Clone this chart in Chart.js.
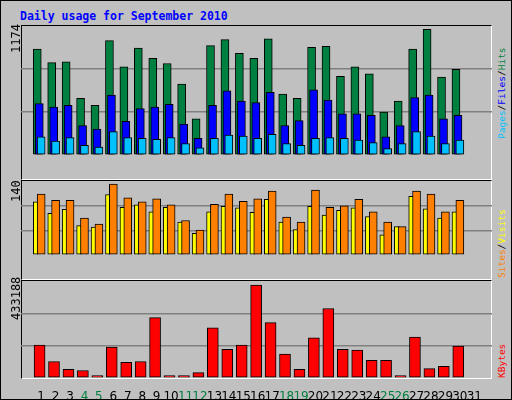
<!DOCTYPE html>
<html><head><meta charset="utf-8">
<script src="https://cdn.jsdelivr.net/npm/chart.js@4/dist/chart.umd.min.js"></script>
<style>
body{margin:0;background:#fff}
#f{position:relative;width:510px;height:398px;background:#C0C0C0;border:1px solid #000;overflow:hidden;font-family:"DejaVu Sans Mono",monospace}
.p{position:absolute;left:20px;width:471px;border-top:1px solid #000;border-left:1px solid #000;border-right:1px solid #fff;border-bottom:1px solid #fff;box-sizing:border-box}
.w{position:absolute;left:20px;width:471px}
.rot{position:absolute;transform:rotate(-90deg);transform-origin:left top;white-space:nowrap;font-size:12px}
.rl{font-size:9.5px}
#t{position:absolute;left:19px;top:8px;color:#0000FF;font-weight:bold;font-size:11.5px}
</style></head><body>
<div id="f">
<div id="t">Daily usage for September 2010</div>
<div class="p" style="top:24px;height:155px"></div>
<div class="p" style="top:179px;height:100px"></div>
<div class="p" style="top:279px;height:99px"></div>
<div class="w" style="top:25px;height:152px"><canvas id="c1"></canvas></div>
<div class="w" style="top:180px;height:97px"><canvas id="c2"></canvas></div>
<div class="w" style="top:280px;height:120px"><canvas id="c3"></canvas></div>
<div class="rot" style="left:8px;top:52px">1174</div>
<div class="rot" style="left:8px;top:201px">140</div>
<div class="rot" style="left:8px;top:319px">433188</div>
<div class="rot rl" style="left:495px;top:138px"><span style="color:#00C0FF">Pages</span>/<span style="color:#0000FF">Files</span>/<span style="color:#008040">Hits</span></div>
<div class="rot rl" style="left:495px;top:277px"><span style="color:#FF8000">Sites</span>/<span style="color:#FFFF00">Visits</span></div>
<div class="rot rl" style="left:495px;top:377px;color:#FF0000">KBytes</div>
</div>
<script>
const days=[1,2,3,4,5,6,7,8,9,10,11,12,13,14,15,16,17,18,19,20,21,22,23,24,25,26,27,28,29,30,31];
const weekend=[4,5,11,12,18,19,25,26];
const hits=[991,863,871,529,465,1070,824,999,903,855,664,338,1023,1078,951,903,1086,569,529,1007,1015,736,824,760,401,505,991,1174,728,800,0];
const files=[481,449,465,274,242,561,314,433,449,473,290,155,465,601,505,489,585,274,322,609,513,386,386,370,170,274,537,561,338,370,0];
const pages=[170,131,162,91,75,218,162,155,147,162,107,67,155,186,178,155,194,107,91,155,162,155,139,115,59,107,218,178,107,139,0];
const sites=[105,82,90,58,55,119,94,99,85,94,65,43,85,96,93,84,110,65,50,96,79,88,93,76,40,56,116,91,73,85,0];
const visits=[120,108,108,73,61,140,113,105,111,99,68,49,100,120,106,111,126,75,65,128,94,97,110,85,65,56,126,120,85,108,0];
const kbytes=[153000,77000,40000,35000,11000,144000,73000,77000,281000,11000,11000,25000,234000,134000,153000,433188,258000,111000,40000,187000,324000,134000,130000,82000,82000,11000,191000,44000,54000,149000,0];

function ds(vals,off,color,th,order){
  return {data:days.map((d,i)=>({x:d+off,y:vals[i]})).filter(p=>p.y>0),backgroundColor:color,borderColor:'#000',borderWidth:1,borderSkipped:false,barThickness:th,grouped:false,order:order};
}
function mk(id,datasets,max,showX){
  new Chart(document.getElementById(id),{type:'bar',data:{datasets},
  options:{responsive:true,maintainAspectRatio:false,animation:false,
   layout:{padding:0},
   plugins:{legend:{display:false},tooltip:{enabled:false}},
   scales:{
    x:{type:'linear',min:0.13,max:31.7,display:showX,grid:{display:false},border:{display:false},
       afterBuildTicks:s=>{s.ticks=days.map(v=>({value:v}));},
       afterFit:s=>{s.height=23;},
       ticks:{autoSkip:false,maxRotation:0,padding:4,font:{family:'DejaVu Sans',size:12},
         color:c=>weekend.includes(c.tick.value)?'#008040':'#000',callback:v=>String(v)}},
    y:{min:0,max:max,display:true,border:{display:false},
       afterBuildTicks:s=>{s.ticks=[0,max/3,2*max/3,max].map(v=>({value:v}));},
       afterFit:s=>{s.width=0;},
       ticks:{display:false},
       grid:{drawTicks:false,color:c=>(c.index===1||c.index===2)?'#808080':'rgba(0,0,0,0)',lineWidth:1.5}}
   }}});
}
mk('c1',[ds(hits,-0.27,'#008040',8,3),ds(files,-0.13,'#0000FF',8,2),ds(pages,0,'#00C0FF',8,1)],1206,false);
mk('c2',[ds(sites,-0.37,'#FFFF00',5,2),ds(visits,0,'#FF8000',8,1)],146,false);
mk('c3',[ds(kbytes,-0.11,'#FF0000',11,1)],452000,true);
</script>
</body></html>
